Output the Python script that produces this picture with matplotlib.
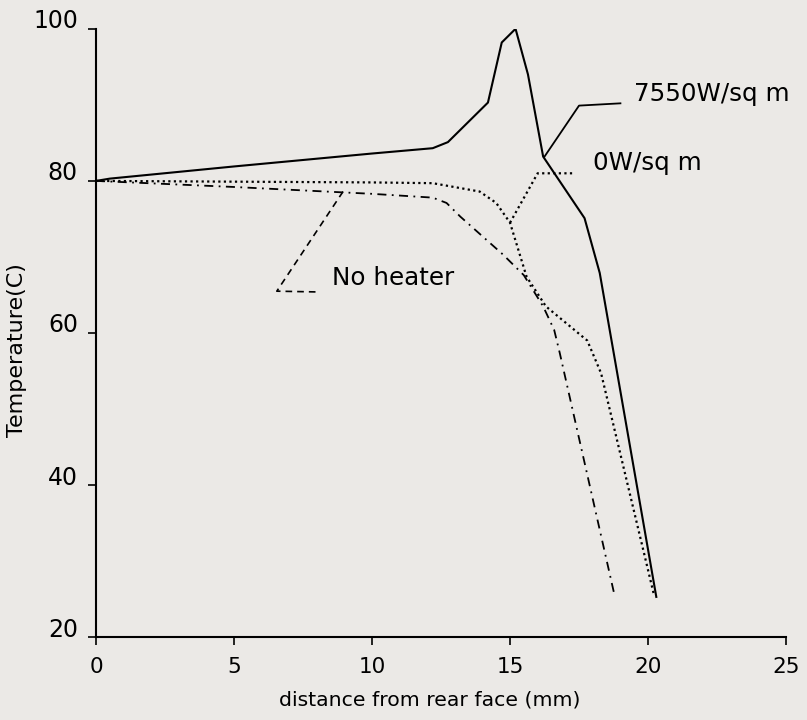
import matplotlib
matplotlib.use('Agg')
import matplotlib.pyplot as plt
import matplotlib.transforms as mtransforms

# 7550W/sq m (solid)
x_7550 = [0, 0.5, 5, 10, 12.2, 12.75, 14.2, 14.7, 15.2, 15.65, 16.2, 17.7, 18.25, 20.3]
t_7550 = [80, 80.3, 81.9, 83.6, 84.3, 85.1, 90.3, 98.2, 100, 94, 83.2, 75.1, 67.9, 25.3]

# 0W/sq m (dotted)
x_0w = [0, 5, 10, 12.2, 13.9, 14.5, 15.0, 15.6, 16.3, 17.8, 18.3, 20.2]
t_0w = [80, 79.9, 79.8, 79.7, 78.6, 77.1, 74.5, 67.4, 63.5, 59, 54.7, 25.8]

# No heater (dashed)
x_nh = [0, 5, 10, 12.2, 12.7, 13.2, 14.75, 15.5, 16.2, 16.6, 16.8, 18.8]
t_nh = [80, 79.2, 78.3, 77.8, 77.1, 75.3, 70.3, 67.6, 63.5, 60.4, 57.4, 25.3]

# label leaders
lead_7550_x = [16.25, 17.5, 19.0]
lead_7550_y = [83.2, 89.9, 90.2]
lead_0w_x = [15.0, 16.0, 17.35]
lead_0w_y = [74.5, 81.0, 81.0]
lead_nh_x = [8.95, 6.55, 8.0]
lead_nh_y = [78.6, 65.5, 65.4]

bg = '#ebe9e6'
fig = plt.figure(figsize=(8.07, 7.2), dpi=100, facecolor=bg)
ax = fig.add_axes([0.119, 0.115, 0.855, 0.845], facecolor=bg)

ax.plot(x_7550, t_7550, color='black', lw=1.5)
ax.plot(x_0w, t_0w, color='black', lw=1.6, linestyle=(0, (1, 1.5)))
ax.plot(x_nh, t_nh, color='black', lw=1.3, linestyle=(0, (5, 3, 1, 3)))

ax.plot(lead_7550_x, lead_7550_y, color='black', lw=1.3)
ax.plot(lead_0w_x, lead_0w_y, color='black', lw=1.6, linestyle=(0, (1, 1.5)))
ax.plot(lead_nh_x, lead_nh_y, color='black', lw=1.2, linestyle=(0, (4, 3)))

ax.text(19.5, 91.4, '7550W/sq m', fontsize=17.7, va='center', ha='left')
ax.text(18.0, 82.4, '0W/sq m', fontsize=17.7, va='center', ha='left')
ax.text(8.55, 67.2, 'No heater', fontsize=17.7, va='center', ha='left')

ax.set_xlim(0, 25)
ax.set_ylim(20, 100)
ax.set_xticks([0, 5, 10, 15, 20, 25])
ax.set_yticks([20, 40, 60, 80, 100])
ax.tick_params(direction='out', length=6, width=1.2)
ax.tick_params(axis='x', labelsize=15.5, pad=8)
ax.tick_params(axis='y', labelsize=17, pad=7)
# y tick labels sit a little above their ticks in the original
offset = mtransforms.ScaledTranslation(0, 0.10, fig.dpi_scale_trans)
for lab in ax.yaxis.get_majorticklabels():
    lab.set_transform(lab.get_transform() + offset)

for s in ['top', 'right']:
    ax.spines[s].set_visible(False)
for s in ['left', 'bottom']:
    ax.spines[s].set_linewidth(1.5)

ax.set_xlabel('distance from rear face (mm)', fontsize=14.7)
ax.xaxis.set_label_coords(0.483, -0.088)
ax.set_ylabel('Temperature(C)', fontsize=16)
ax.yaxis.set_label_coords(-0.10, 0.472)

fig.savefig('out.png', dpi=100, facecolor=bg)
